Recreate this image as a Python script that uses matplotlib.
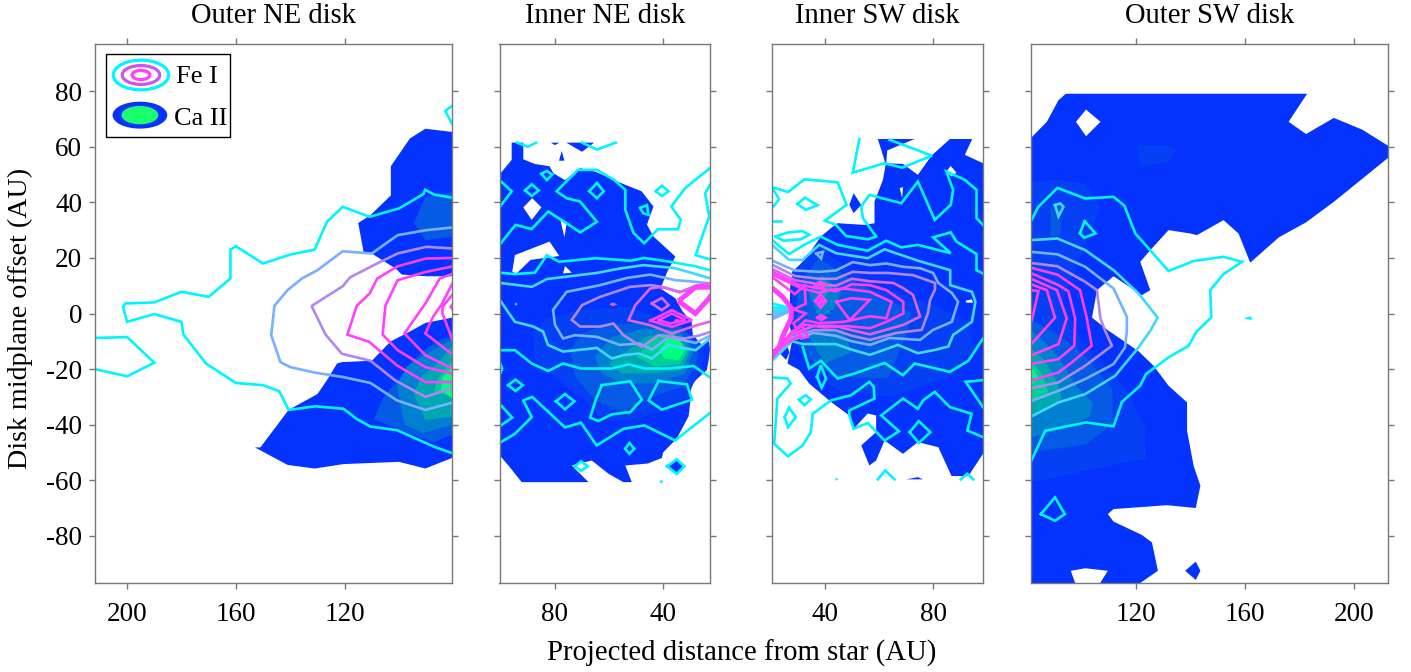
import matplotlib
matplotlib.use('Agg')
import matplotlib.pyplot as plt
from matplotlib.patches import Ellipse, Polygon, Rectangle

plt.rcParams['font.family'] = ['Liberation Serif', 'DejaVu Serif']
plt.rcParams['axes.unicode_minus'] = False

titles = ['Outer NE disk', 'Inner NE disk', 'Inner SW disk', 'Outer SW disk']
xlimits = [(212, 80.5), (100.5, 22.7), (20.6, 98.4), (81.3, 212.6)]
xticks = [[200, 160, 120], [80, 40], [40, 80], [120, 160, 200]]
yticks = [-80, -60, -40, -20, 0, 20, 40, 60, 80]

# Ca II shades, from the faintest level up
ca_colors = ['#0433ff', '#0640f5', '#055ae6', '#0080d0', '#00a8b0', '#00d098', '#00ff80']
# Fe I contour colours
fe_colors = ['#00f5ff', '#40d8ff', '#77b0ff', '#b088ee', '#dd66f0', '#ff40ff']

# ---- Outer NE ----
one_ca = [
    (0, [(80, 65.3), (90.3, 66.5), (96, 63), (103, 53), (103, 42.5), (110.5, 35.4), (115, 32.6), (113, 22), (110, 21.6),
         (101, 16), (99, 14), (90, 13.4), (80, 13.4)]),
    (0, [(80, -1.4), (90.3, -3.4), (97, -7), (103, -10), (110, -17), (121, -17.5), (122.8, -18), (126.5, -24), (130, -29),
         (140.6, -34.7), (151, -48.2), (153, -48.2), (141, -54.5), (131, -55.8), (120.4, -54.2), (100, -53.4), (90.3, -55.8),
         (80, -51.8)]),
    (2, [(80, 43.8), (90.3, 42), (94.5, 32.6), (90.3, 26.4), (80, 27.6)]),
    (2, [(109.3, -38), (105.6, -30), (100, -23.5), (96, -18), (90.3, -13), (86, -10), (80, -7.8), (80, -43.4), (87, -46.4), (98, -42.5)]),
    (3, [(100.7, -26), (97, -19), (90, -14.5), (80, -9), (80, -40), (91, -43), (98, -40)]),
    (4, [(94.6, -29), (92, -23), (86, -18), (80, -11), (80, -37), (90.3, -38.3)]),
    (5, [(87, -28), (86, -24), (83, -20), (80, -17), (80, -30)]),
    (6, [(84.5, -27.5), (84, -23), (82, -21), (80, -19), (80, -31)]),
]
one_holes = []
one_fe = [
    (0, [(212, -8.8), (200, -8.5), (190, -17.7), (200, -22.6), (212, -20)]),
    (0, [(80, 41.6), (87, 42.8), (90.4, 44.5), (91, 43), (100, 37.8), (110.8, 34.8), (120.7, 38.4), (126.5, 33), (131, 23),
         (140, 21.2), (150, 18), (160, 24.2), (162, 23), (162, 12.6), (170, 6), (180, 7.8), (190, 4), (200.7, 3.6), (201.5, 2.4),
         (200, -3), (190, -0.2), (180, -3), (179.3, -7.6), (171, -18), (160, -25), (150, -25.8), (144, -28), (140.6, -34.7),
         (130.8, -33.4), (120.4, -34.3), (115.5, -38), (110.5, -40.7), (100.7, -42), (87, -48), (80, -50.4)]),
    (0, [(80, 75), (83, 73), (80.5, 68.3)]),
    (2, [(80, 31), (90, 30), (100.5, 28.2), (110, 21.6), (120.7, 22.4), (130, 15.6), (135.7, 12.6), (141, 8.4), (145.8, 2.8),
         (147, -7.8), (143.6, -17.5), (140, -19.3), (130.8, -21.3), (120.4, -22.9), (110.5, -25), (100.7, -31.3), (90.3, -34.7),
         (80, -32)]),
    (3, [(80, 23.4), (90, 24), (100.5, 21.6), (109.3, 17.4), (118, 13), (120.7, 9.8), (132, 2.8), (132, 2.4), (127, -7.6),
         (121, -14.5), (110.5, -17), (101.5, -24), (90.3, -30), (80, -26.7)]),
    (5, [(80, 20), (90, 19.8), (100.5, 17), (108, 12.6), (110.8, 7.2), (115.5, 2.8), (119, -7.6), (111, -10.2), (100.7, -18.7),
         (90.3, -24.7), (80, -24.7)]),
    (5, [(80, 17), (90, 15), (100.5, 12), (105, 2.8), (106, -7.6), (100.5, -13.2), (90.3, -19.3), (80, -21.7)]),
    (5, [(80, 14.4), (85, 12.6), (90.3, 3.6), (98, -7.2), (90.3, -15), (80, -20)]),
    (5, [(80, 11.4), (84.5, 3), (87.5, -1.2), (90.3, -7.2), (80, -15)]),
    (5, [(80, 7.2), (84, 2.4), (84, 0), (80.3, -9.6)]),
    (5, [(80, 3.6), (81, 2.4), (80, 1.2)]),
]

# ---- Inner NE ----
ine_ca = [
    (0, [(96, 61.5), (91.7, 61.5), (91.7, 55.5), (87.4, 53.8), (82, 53), (80.6, 50.5), (76.3, 48), (70.7, 52.3), (65, 51), (54, 46.3),
         (48, 44), (43.6, 38.5), (46, 32), (43.6, 27.7), (35.5, 20.5), (38.5, 15), (41, 9), (35.5, 5.5), (33, 1), (29.5, -3), (29, -8),
         (26, -11), (23, -10), (22.7, -13), (23.2, -16.8), (23.9, -20.4), (28, -24), (30, -27), (29.9, -31), (30.6, -37), (35, -45), (40, -50),
         (40.5, -52), (45.7, -54), (54, -54.7), (51.6, -60.7), (54.7, -60.7), (60.2, -57.7), (66.4, -52.9), (73.8, -54.7), (67.6, -60.7),
         (92.3, -60.7), (97.2, -54.7), (100.5, -51), (100.5, 50), (96, 55.3)]),
    (0, [(81.5, 61.5), (78.4, 61.5), (80, 60.6)]),
    (0, [(75.8, 61.5), (65.5, 61.5), (70, 58.2)]),
    (0, [(77.5, 58.5), (78.5, 55), (76.5, 55)]),
    (0, [(38, -55), (35, -52.9), (32.5, -55), (35, -57.7)]),
    (1, [(88, -7.2), (83.7, -2.4), (71.4, 1.2), (52.8, 2.4), (40.5, -2.4), (28.1, -8.4), (24.4, -15.6), (28.1, -22.8), (30.6, -30), (40.5, -34.9),
         (51.6, -38.5), (61.5, -38.5), (70.1, -30), (80, -22.8), (87.4, -16.8)]),
    (2, [(74.4, -13.2), (70.1, -7.2), (60.2, -3.6), (46.7, -3.6), (33.1, -4.8), (26.9, -12), (28.1, -19.2), (33.1, -26.4), (44.2, -30), (54.1, -36),
         (65.2, -31.2), (72.6, -22.8)]),
    (3, [(65.2, -15.6), (59, -8.4), (46.7, -5.4), (34.3, -6), (28.8, -13.2), (31.9, -21.6), (44.2, -25.2), (55.3, -25.2), (62.7, -21.6)]),
    (4, [(60.2, -18), (52.8, -13.2), (46.7, -8.4), (36.8, -6.6), (30, -13.2), (33.1, -20.4), (44.2, -21.6), (55.3, -21.6)]),
    (5, [(49.8, -15.6), (44.2, -9), (36.2, -7.2), (30.6, -13.2), (33.7, -18), (43, -19.2)]),
    (6, [(41.7, -13.2), (38, -9), (34.3, -9), (31.9, -13.2), (34.3, -16.8), (39.3, -16.2)]),
]
ine_holes = [
    [(91.7, 38.2), (88.4, 41.5), (85, 38.2), (88.6, 33.7)],
    [(78, 33.7), (76.5, 27.4), (75.6, 33)],
    [(94.8, 21), (82, 25.9), (78.4, 20.7), (89, 19.3), (94.2, 14.4), (95.8, 15)],
    [(77, 14.4), (76.3, 17.1), (73.8, 14.7)],
    [(32.4, 4), (28, 8), (23, 8), (23.5, 4.5), (28, 0.5)],
    [(72.6, -55), (70.4, -53.2), (67.9, -55), (70.4, -56.7)],
]
ine_fe = [
    (0, [(94, 61.5), (90, 60), (87, 61.5)]),
    (0, [(70, 61.5), (64.5, 59), (57.5, 61.5)]),
    (0, [(22.7, 52.3), (27, 49), (32, 45), (37, 38.5), (33.5, 33.7), (34.5, 30.3), (42, 30.3), (47, 25.3), (51, 29), (54, 37.3), (54, 44.5),
         (58, 48), (64.5, 51.7), (71.5, 51.7), (79.4, 44), (75.7, 41.5), (70.7, 40.3), (64.5, 33), (70.7, 29.2), (76.5, 33), (82.5, 36.7), (88.6, 30.4),
         (94.6, 31.9), (100.5, 24.7)]),
    (0, [(22.7, 46.3), (24.5, 43.3), (23, 35), (28, 21), (22.7, 19.5)]),
    (0, [(100.5, 48), (96, 44), (100.5, 38.2)]),
    (0, [(91, 44.3), (88.6, 46.5), (86, 44.3), (88.6, 42.3), (91, 44.3)]),
    (0, [(85, 50.3), (83, 51.3), (81, 50), (83, 48), (85, 50.3)]),
    (0, [(67.3, 44), (64.5, 47), (62, 44), (64.5, 41.5), (67.3, 44)]),
    (0, [(42.7, 44), (40.5, 46), (38, 44), (40.5, 42.3), (42.7, 44)]),
    (0, [(48.5, 38), (46, 39), (45.4, 35.5), (47.3, 36), (48.5, 38)]),
    (0, [(100.5, 14.7), (94.8, 14.2), (87.4, 14.7), (83, 21), (78.4, 18.6), (65, 19.9), (52, 19), (47, 20), (38, 18.7), (28, 17), (22.7, 15.6)]),
    (0, [(100.5, -13.2), (94.8, -13.2), (88.6, -18), (82.5, -20.7), (77, -18), (70.4, -19.8), (59, -19.8), (52.8, -18.3), (46.7, -19.8), (38, -19.8),
         (28.8, -18.9), (22.7, -23)]),
    (1, [(100.4, 11), (88.5, 9.6), (83, 12.4), (64.5, 14.6), (56, 16.2), (47.3, 17.4), (36.1, 16.4), (28.7, 14.4), (22.5, 12.6)]),
    (1, [(100.4, 4.9), (94.8, -3), (88, -4.7), (84.4, -6.5), (82.6, -11.3), (77, -13.7), (64.5, -12.4), (59, -16.2), (54.7, -15), (49, -14.4),
         (44.2, -16.2), (38, -11.4), (28, -13.2), (22.7, -9)]),
    (2, [(22.5, 10.8), (28, 11.4), (35.5, 12), (44.8, 14), (53.4, 12.8), (63.3, 10.2), (75.7, 7.8), (80.7, 1.3), (80, -4.1), (77, -9), (72.6, -7.8),
         (64.5, -8.4), (56, -11.3), (49, -10.8), (44, -13), (38, -8.5), (28, -10.6), (22.7, -8)]),
    (3, [(22.5, 9.6), (28, 9), (33.7, 7.8), (40.5, 9.6), (44.8, 10.2), (52.2, 9.6), (63.3, 6), (70, 3), (73.8, -2.3), (70.7, -4.7), (63.3, -4.7),
         (58.4, -3.6), (54.7, -7.8), (47.9, -12), (41.7, -7.8), (32, -9), (26.3, -7.8), (22.5, -6.6)]),
    (4, [(23, -3), (27.5, -4.2), (36.8, -7.2), (44.8, -4.2), (52.8, -2.4), (50.3, 3), (44.8, 9), (40.5, 9.6), (34, 7.6), (28, 10), (22.5, 11)]),
    (5, [(44.8, -2.6), (36.8, 1.2), (29.3, -2.4), (36.8, -4.8), (44.8, -2.6)]),
    (5, [(41.7, -2.4), (36.8, 0), (31.8, -2.4), (37.4, -3.6), (41.7, -2.4)]),
    (4, [(44.2, 3.6), (40.5, 5.6), (38, 3), (40.5, 1.2), (44.2, 3.6)]),
    (0, [(100.5, -17.4), (99.5, -19.8), (100.5, -22.2)]),
    (0, [(97.3, -25.8), (94.6, -23.8), (91.9, -25.8), (94.6, -27.9), (97.3, -25.8)]),
    (0, [(79.6, -31.6), (76.3, -29), (72.8, -31.6), (76.3, -34.5), (79.6, -31.6)]),
    (0, [(62.7, -25.8), (52.2, -24.4), (47.9, -31), (52.2, -35.5), (59, -36.3), (64, -38.7), (67, -37.5), (65, -31.3), (62.7, -25.8)]),
    (0, [(41.7, -24.3), (31.2, -25.5), (29.4, -31), (40.5, -34.6), (45.4, -31.3), (41.7, -24.3)]),
    (0, [(100.5, -46.6), (94.8, -43.3), (88.6, -37.3), (91.7, -31.3), (88.4, -30), (76.3, -41), (70.4, -39.3), (64.6, -47.5), (54.7, -41.5), (46.9, -40.3),
         (35.6, -45.7), (22.7, -35.8)]),
    (0, [(100.5, -32.5), (95.8, -37.5), (100.5, -40.6)]),
    (0, [(54, -48.7), (52.5, -46.6), (50.7, -48.7), (52.5, -50.5), (54, -48.7)]),
    (0, [(72.6, -55), (70.4, -53.2), (67.9, -55), (70.4, -56.7), (72.6, -55)]),
    (0, [(38.6, -55), (35, -52.5), (32.2, -55), (35, -57.7), (38.6, -55)]),
]
ine_thick = [
    [(33.7, 5), (28, 9.5), (22.7, 9.5)],
    [(33.7, 4), (28.1, 0), (23, 5.5), (22.7, 6)],
]
ine_dots = [
    (4, [(60, 3.3), (58.6, 4), (57, 3.3), (58.6, 2.6)]),
    (2, [(95, 3.4), (94.4, 4), (93.8, 3.4), (94.4, 2.8)]),
    (5, [(41.5, 9.2), (40.5, 10), (39.5, 9.2), (40.5, 8.4)]),
    (5, [(36, -2.4), (35, -1.8), (33.6, -2.4), (35, -3.2)]),
    (0, [(41.4, -60.5), (40.7, -59.8), (40, -60.5), (40.7, -61.2)]),
]

# ---- Inner SW ----
isw_ca = [
    (0, [(59.6, 62.8), (73.2, 62.8), (63.1, 58.7), (62.7, 54.1), (68.9, 53.8), (74.4, 49.9), (79.4, 56.8), (86.2, 62.8), (94.4, 62.8), (91.7, 57.1), (98.4, 54.1),
         (98.4, -50.5), (93, -58.5), (86.8, -58.5), (81.9, -48.1), (74.4, -46.3), (68.9, -50.5), (62.1, -45.7), (59, -52.9), (56.5, -54.7), (53.5, -47.5),
         (59, -42.7), (59, -36.7), (55.9, -36), (50.7, -41.5), (49.1, -36.7), (42.3, -31.8), (34.3, -25.2), (30.6, -20.3), (26.3, -18), (28.1, -9.5), (27, -3.4),
         (27.3, 9.6), (28.1, 14.6), (33.2, 20), (38.6, 27.7), (42.3, 30.7), (44.8, 32.5), (54.7, 31.9), (58.4, 32.5), (58.4, 40.3), (61.5, 48.1), (62.5, 53.5), (61.5, 57)]),
    (0, [(50.7, 43.3), (53.5, 39.1), (50.7, 36.1), (49.1, 39.1)]),
    (0, [(70.1, -59.7), (74.4, -58.9), (76.3, -59.7)]),
    (0, [(22.1, -13), (26, -11), (27, -14), (25.8, -16.7)]),
    (1, [(28, 15), (38, 24), (50, 15), (65, 8), (80, 3), (93, -3), (95, -12), (88, -22), (65, -30), (45, -28), (33, -18), (28, -8)]),
    (2, [(30, 10), (38, 20), (50, 12), (62, 6), (72, 0), (70, -8), (63.4, -23.4), (43.6, -22.8), (33.7, -15.6), (30, -6)]),
    (3, [(34, 8), (39, 14), (46, 8), (44, 2), (38, -2)]),
    (3, [(33, -6), (47, -6), (50, -14), (40, -18)]),
    (4, [(37, 10), (40, 12), (43, 9), (40, 6)]),
]
isw_holes = [
    [(67.7, 45.1), (68.9, 45.5), (68.6, 41.5)],
    [(84.9, 51.1), (86.5, 53.1), (88.6, 50.7), (86.8, 49.3)],
    [(92, 4.6), (94.2, 5.1), (94.8, 3.9), (92.3, 3.9)],
]
isw_fe = [
    (0, [(20.6, 37.9), (23.2, 41.1), (20.6, 45.5), (26.5, 43.7), (32.5, 48.3), (44.8, 47.2), (48.1, 39.1), (40.1, 33.4), (44.2, 31.9), (47.9, 27.9), (55.9, 26.7),
         (59, 27.7), (54.1, 34.3), (53.5, 38.5), (56.5, 42.7), (68.3, 39.7), (74.4, 47.5), (80.6, 33.7), (86.5, 39.1), (87.4, 44.5), (84.9, 51.1), (91.7, 48.1),
         (96, 44.5), (96, 34.3), (98.4, 31.9)]),
    (0, [(52.8, 62.8), (50.4, 50.7), (62.1, 54.1), (68.6, 52.5), (79.6, 56.8), (64, 62.5)]),
    (0, [(30, 39.4), (32.7, 41.7), (37.4, 39), (33.1, 37.3), (30, 39.4)]),
    (0, [(20.6, 33.4), (23.8, 33.4)]),
    (0, [(21.9, 27.7), (26.2, 29.1), (31.8, 29.7), (34.3, 28.3), (31.1, 26.7), (24.9, 26.2), (21.9, 27.7)]),
    (0, [(20.6, 26.5), (26.9, 21.4), (32.5, 24.7), (38.6, 27.7), (44.8, 24.7), (55.9, 22.6), (62.7, 26.2), (68.3, 23.8), (74.4, 24.7), (86.5, 21.7), (80, 27.4),
         (86.5, 29.2), (88.6, 25.9), (96, 21.4), (96, 15.6), (98.4, 14.4)]),
    (1, [(20.6, 24.7), (26.9, 19.3), (31.9, 19.3), (38, 24.7), (44.2, 21.7), (55.9, 19.9), (62.1, 23.1), (74.4, 19), (86.3, 15.6), (86.3, 10.2), (94.3, 7.8),
         (95.6, 4.2), (94.3, -3), (87.4, -7.7), (85.6, -11.9), (80.7, -13.1), (74.4, -14.3), (67, -11.3), (56.7, -14.9), (50, -13), (44, -11), (38, -11), (32, -11),
         (28, -10), (20.6, -17)]),
    (2, [(20.8, 19), (29, 15.5), (38, 15), (44.2, 15.5), (50.4, 18.5), (56.7, 17.4), (62.8, 18), (69, 16.8), (75.2, 16.3), (80, 14.6), (81.9, 11), (86.9, 7.4),
         (89.2, 4.2), (86.9, -3), (80, -5.9), (75.2, -9.5), (64, -8.8), (56.7, -11.3), (50, -10), (44, -8), (36, -7), (28, -9.5), (20.8, -16)]),
    (3, [(20.8, 17.5), (29, 13.5), (38, 12.5), (44.2, 12.5), (50.4, 15), (56.7, 14.6), (63.3, 14.6), (72.6, 13.8), (80.7, 11), (80.7, 8.6), (78.9, 4.9), (78.1, 0.2),
         (75.8, -5.9), (66.5, -7), (56.7, -9.5), (50, -8), (44, -6), (36, -6), (28, -8.5), (20.8, -15.5)]),
    (4, [(20.8, 16), (29, 12), (38, 10.5), (44.2, 10), (50, 12.5), (56.7, 11.6), (65.3, 11), (69, 9.1), (72.6, 6.7), (75.2, -1.1), (69, -4.1), (56.7, -7.5), (50, -6),
         (44, -4.5), (36, -4.5), (28, -7.5), (20.8, -15)]),
    (5, [(20.8, 15), (30, 10.5), (38, 9), (44.2, 8), (50, 10.5), (56.7, 10.2), (62.8, 8.4), (69, 4.2), (69, 0), (62.8, -3), (56.7, -5.3), (48, -4.5), (40, -5), (33, -4),
         (28, -6.5), (20.8, -14.5)]),
    (5, [(20.8, 14), (31.5, 9), (38, 7.5), (42, 8.5), (47, 9), (56.7, 7.8), (64.7, 4.2), (62.8, -1.7), (56.7, -1), (47, -3), (38, -3.5), (33, -2.5), (29, -6), (20.8, -14)]),
    (5, [(20.8, 13), (29, 7), (32.6, 10), (33, 3.5), (28.5, 1.5), (33, 0), (28.5, -3.5), (31, -8), (20.8, -13.5)]),
    (5, [(44.3, 4.2), (50, 5.5), (56.7, 4.9), (49.3, -2.4), (44.3, 4.2)]),
    (5, [(36.5, 4.5), (38.5, 6.9), (40.6, 4.5), (38.5, 2.1), (36.5, 4.5)]),
    (5, [(37.8, 4.5), (38.5, 5.3), (39.4, 4.5), (38.5, 3.6), (37.8, 4.5)]),
    (5, [(36.3, 10.2), (38.5, 11.4), (40.6, 10.2), (38.5, 9), (36.3, 10.2)]),
    (5, [(37.3, -1.5), (38.7, -0.6), (40.3, -1.5), (38.7, -2.4), (37.3, -1.5)]),
    (5, [(30.7, -7.2), (32.3, -5.4), (33.8, -8.4), (31.3, -9), (30.7, -7.2)]),
    (2, [(36.9, 21.6), (39.4, 22.2), (38.7, 19.8), (36.9, 21.6)]),
    (0, [(20.8, 3.6), (27.6, 1.8), (20.8, 2.2)]),
    (1, [(20.8, 1), (27.6, 1.5), (20.8, 0)]),
    (2, [(20.8, -1), (27.6, 1), (20.8, -2)]),
    (0, [(20.6, -23), (26.3, -23.4), (27.5, -25.2), (22.6, -30.6), (21.4, -46.9), (26.5, -51.4), (31.9, -47.5), (34.9, -42.7), (35.6, -36.1), (42.3, -31.3), (49.8, -29.4),
         (56.5, -24.6), (58.1, -26.4), (58.4, -30.6), (49.1, -34.9), (49.1, -36.7), (50.7, -41.5), (55.9, -39.4), (62.1, -45.7), (67.4, -42.4), (60.9, -36.7), (68.9, -30.6),
         (74.4, -34.3), (76.3, -31.3), (80.6, -28.2), (86.2, -33.7), (94.2, -36.1), (92.6, -42.1), (98.4, -44.5)]),
    (0, [(31.9, -12), (34.3, -19.8), (38.6, -17), (44.8, -23.4), (51, -21.6), (62.1, -17.8), (68.9, -22.2), (73.2, -18), (86.2, -21), (93, -17), (98.4, -9)]),
    (0, [(37.2, -22.8), (38.6, -18.6), (40.5, -23.4), (38.9, -26.7), (37.2, -22.8)]),
    (0, [(30.6, -31), (33.1, -29.4), (34.9, -31), (32.5, -33), (30.6, -31)]),
    (0, [(25.3, -37.3), (26.9, -33.9), (29.4, -37.3), (26.5, -40.9), (25.3, -37.3)]),
    (0, [(71.4, -42.7), (74.7, -38.7), (79, -42.7), (74.7, -46.6), (71.4, -42.7)]),
    (0, [(98.4, -24), (92, -24.6), (98.4, -33.7)]),
    (0, [(59.6, -59.7), (62.3, -56.5), (65.8, -59.7)]),
    (0, [(90.2, -59.7), (92.6, -57.7), (94.8, -59.7)]),
]
isw_thick = [
    [(20.9, 9), (24.5, 6), (27.7, 2), (27.7, -1.5), (24.5, -8.3), (23.3, -12), (20.9, -15)],
]
isw_dots = [
    (0, [(45, -59.7), (44.4, -59.1), (43.8, -59.7), (44.4, -60.2)]),
    (5, [(39.5, -1.5), (38.7, -1), (37.8, -1.5), (38.7, -2)]),
]

# ---- Outer SW ----
osw_ca = [
    (0, [(81.3, 63), (87.3, 69), (91.6, 76.8), (94.3, 79.1), (182.9, 79.1), (176.1, 69), (182.5, 64.6), (192.7, 70.4), (203.1, 66.2), (212.6, 60.4), (212.6, 56), (201.8, 47.4),
         (192.7, 40.2), (182.5, 32.8), (172.5, 27.4), (162, 18.3), (157.7, 28.8), (152.2, 33.6), (142.4, 28.2), (140, 28.8), (132, 30), (125.3, 22.8), (121.6, 18.6), (125.3, 8.4),
         (122.2, 6.6), (111.8, 13.4), (105.7, 8.4), (103.9, -1.5), (110, -6.2), (121, -13.6), (126.5, -18.8), (132, -26), (138.8, -32), (138.8, -42.2), (141.2, -54.8), (143.7, -62),
         (142, -70), (131.4, -69), (111.8, -70.4), (109.7, -72.2), (111.8, -74.9), (122.2, -79.7), (125.9, -82.4), (128.1, -92.6), (121.6, -97), (106.9, -97), (109.7, -92.6),
         (101.4, -91.7), (96.1, -92.6), (97.7, -97), (81.3, -97)]),
    (0, [(138.1, -92.6), (142, -89.3), (143.7, -92.6), (142, -95.9)]),
    (1, [(120.4, 60.8), (132, 60.4), (134.7, 59), (132, 54.4), (121.8, 52.8)]),
    (1, [(81.3, 47.4), (91.6, 48), (101.4, 46.8), (106.9, 38.4), (103.8, 29.4), (97.7, 16.2), (92.8, 4.2), (100, -10), (116, -26.6), (123.2, -40.4), (123.7, -52.4), (103.8, -56),
         (87.9, -59.6), (81.3, -60.5)]),
    (2, [(88.6, 38.4), (92.3, 39), (92.3, 28), (88.6, 28)]),
    (2, [(81.3, -2), (92, -8), (103, -17), (111.5, -27.6), (111.5, -40), (101.4, -47.2), (84.2, -49.6), (81.3, -50)]),
    (3, [(81.3, -44.6), (95, -41), (103, -37), (104.4, -32.6), (98, -26), (91, -15), (84, -8), (81.3, -6)]),
    (4, [(81.3, -36.8), (92.8, -30.8), (90.9, -24.2), (86.6, -17), (81.3, -12.2)]),
    (5, [(81.3, -31.4), (87.9, -28.4), (85.5, -21.8), (81.3, -17)]),
    (6, [(81.3, -26), (84, -23), (81.3, -18.8)]),
]
osw_holes = [
    [(98, 69), (101.7, 73.4), (107, 69), (101.7, 63.8)],
]
osw_fe = [
    (0, [(81.3, 33), (84.2, 38.4), (91.2, 45.2), (101.4, 41.4), (111.8, 42), (115.8, 38.8), (119.8, 28.8), (132, 15.3), (141.2, 18.9), (152.2, 20.4), (159, 18.6), (152.2, 14.2),
         (147.3, 8.4), (147.7, -1.4), (142.2, -6.6), (139.4, -11.6), (132, -15.8), (123.7, -21.8), (121.6, -26), (114.9, -31.8), (111.8, -40.6), (101.7, -39.2), (86.7, -42.2),
         (81.3, -53.6)]),
    (1, [(81.3, 26.4), (91.2, 27), (101.4, 22.8), (111.8, 15.6), (121, 7.2), (128, -1.5), (125.3, -6.2), (121, -12.2), (112.4, -22.4), (101.4, -29), (91.6, -32), (81.3, -37.2)]),
    (2, [(81.3, 22.2), (91.2, 21.3), (101.4, 16.8), (111.8, 9), (116.7, -1.2), (116.7, -6.2), (116, -12.2), (111.8, -18.2), (101.4, -23.6), (91.6, -27.8), (81.3, -31.6)]),
    (3, [(81.3, 18.2), (91.2, 17), (101.4, 11.4), (105.7, 8.4), (107, -1.8), (108.7, -6.2), (111.2, -11.6), (101.4, -18.8), (91.6, -24.8), (81.3, -27)]),
    (5, [(81.3, 16.5), (91.2, 14), (99.5, 8.4), (102, -1.8), (103.8, -11.6), (96.5, -17.6), (91.6, -21.2), (81.3, -24.2)]),
    (5, [(81.3, 14.6), (91.6, 10.2), (95.2, 8), (97.7, -1.8), (97.4, -11.6), (91.6, -16.4), (81.3, -18.2)]),
    (5, [(81.3, 12.6), (91, 8.4), (94.6, -1.8), (91.6, -11), (81.3, -15.2)]),
    (5, [(81.3, 10.6), (87.3, 8.4), (90.3, -1.5), (81.8, -10.8)]),
    (5, [(81.3, 8.4), (84.2, 8.1), (81.8, -2.4)]),
    (1, [(90.3, 39), (92.2, 39.6), (93.4, 38.4), (91.6, 35), (90.3, 39)]),
    (0, [(101.2, 33.2), (105.2, 28.8), (101, 27.3), (99.4, 28.8), (101.2, 33.2)]),
    (0, [(85.1, -72.2), (90.3, -66.2), (93.9, -72.2), (90.3, -74.6), (85.1, -72.2)]),
]
osw_dots = [
    (0, [(159.8, -1.6), (162.3, -1), (162.8, -2.3), (160.5, -2.1)]),
]

panels = [
    (one_ca, one_holes, one_fe, [], []),
    (ine_ca, ine_holes, ine_fe, ine_thick, ine_dots),
    (isw_ca, isw_holes, isw_fe, isw_thick, isw_dots),
    (osw_ca, osw_holes, osw_fe, [], osw_dots),
]
# left, right of each panel in pixels of the 1411 wide picture
boxes = [(94.5, 452), (499.5, 710), (772, 983), (1030.5, 1388)]
W, H = 1411, 672
top, bottom = 44, 583


def draw_panel(ax, ca, holes, fe, thick, dots):
    for level, pts in ca:
        ax.add_patch(Polygon(pts, closed=True, fc=ca_colors[level], ec='none'))
    for pts in holes:
        ax.add_patch(Polygon(pts, closed=True, fc='white', ec='none'))
    for level, pts in fe:
        ax.plot([p[0] for p in pts], [p[1] for p in pts], color=fe_colors[level], lw=1.9, solid_joinstyle='miter')
    for pts in thick:
        ax.plot([p[0] for p in pts], [p[1] for p in pts], color=fe_colors[5], lw=3.6, solid_joinstyle='miter')
    for level, pts in dots:
        ax.add_patch(Polygon(pts, closed=True, fc=fe_colors[level], ec='none'))


def legend(ax):
    ax.add_patch(Rectangle((0.032, 0.8275), 0.347, 0.1535, transform=ax.transAxes, fc='white', ec='black', lw=1, zorder=5))
    rings = [(0.130, 0.9425, 0.155, 0.055, fe_colors[0]), (0.130, 0.9425, 0.105, 0.035, '#cc55f0'), (0.130, 0.9425, 0.05, 0.017, fe_colors[5])]
    for cx, cy, w, h, c in rings:
        ax.add_patch(Ellipse((cx, cy), w, h, transform=ax.transAxes, fc='none', ec=c, lw=2.3, zorder=6))
    ax.add_patch(Ellipse((0.127, 0.868), 0.153, 0.05, transform=ax.transAxes, fc=ca_colors[0], ec='none', zorder=6))
    ax.add_patch(Ellipse((0.127, 0.868), 0.103, 0.034, transform=ax.transAxes, fc='#1aff70', ec='none', zorder=6))
    ax.text(0.228, 0.9385, 'Fe I', transform=ax.transAxes, fontsize=19, va='center', ha='left', zorder=7)
    ax.text(0.222, 0.861, 'Ca II', transform=ax.transAxes, fontsize=19, va='center', ha='left', zorder=7)


fig = plt.figure(figsize=(W / 100, H / 100), dpi=100)
for i in range(4):
    left, right = boxes[i]
    ax = fig.add_axes([left / W, 1 - bottom / H, (right - left) / W, (bottom - top) / H])
    ca, holes, fe, thick, dots = panels[i]
    draw_panel(ax, ca, holes, fe, thick, dots)
    ax.set_xlim(*xlimits[i])
    ax.set_ylim(-97, 97)
    ax.set_xticks(xticks[i])
    ax.set_yticks(yticks)
    ax.tick_params(axis='both', direction='out', length=4, width=1, color='#777777', top=True, right=True, labelsize=19.5)
    ax.tick_params(axis='x', pad=10)
    ax.tick_params(axis='y', pad=5)
    if i > 0:
        ax.tick_params(axis='y', labelleft=False)
    for s in ax.spines.values():
        s.set_color('#777777')
        s.set_linewidth(1)
    ax.set_title(titles[i], fontsize=20.6, pad=15)
    if i == 0:
        legend(ax)
        ax.set_ylabel('Disk midplane offset (AU)', fontsize=20.2, labelpad=9, y=0.49)

fig.text(742 / W, 1 - 653 / H, 'Projected distance from star (AU)', fontsize=20.7, ha='center', va='center')
fig.savefig('out.png', dpi=100)
